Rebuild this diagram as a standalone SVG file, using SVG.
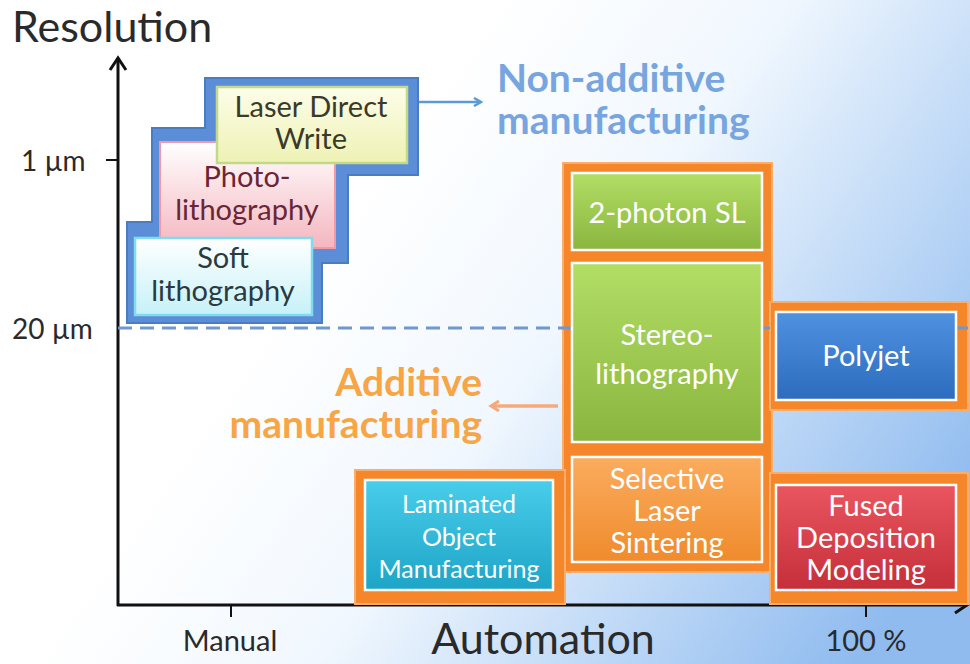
<svg xmlns="http://www.w3.org/2000/svg" width="970" height="664" viewBox="0 0 970 664">
<defs>
<linearGradient id="bg" gradientUnits="userSpaceOnUse" x1="380" y1="170" x2="930" y2="560">
<stop offset="0" stop-color="#ffffff"/><stop offset="0.35" stop-color="#f0f7fe"/><stop offset="1" stop-color="#8fbbef"/>
</linearGradient>
<linearGradient id="gYel" x1="0" y1="0" x2="0" y2="1"><stop offset="0" stop-color="#fdfde8"/><stop offset="1" stop-color="#eef2b4"/></linearGradient>
<linearGradient id="gPink" x1="0" y1="0" x2="0" y2="1"><stop offset="0" stop-color="#ffffff"/><stop offset="1" stop-color="#f4b6bf"/></linearGradient>
<linearGradient id="gCyan" x1="0" y1="0" x2="0" y2="1"><stop offset="0" stop-color="#ffffff"/><stop offset="1" stop-color="#c6f1f8"/></linearGradient>
<linearGradient id="gGreen" x1="0" y1="0" x2="0" y2="1"><stop offset="0" stop-color="#b2de66"/><stop offset="1" stop-color="#8ab53e"/></linearGradient>
<linearGradient id="gOr" x1="0" y1="0" x2="0" y2="1"><stop offset="0" stop-color="#fbac5e"/><stop offset="1" stop-color="#ef8b2c"/></linearGradient>
<linearGradient id="gTeal" x1="0" y1="0" x2="0" y2="1"><stop offset="0" stop-color="#48cdea"/><stop offset="1" stop-color="#1ea4c6"/></linearGradient>
<linearGradient id="gBlue" x1="0" y1="0" x2="0" y2="1"><stop offset="0" stop-color="#4f92e0"/><stop offset="1" stop-color="#2c6bbd"/></linearGradient>
<linearGradient id="gRed" x1="0" y1="0" x2="0" y2="1"><stop offset="0" stop-color="#ea5660"/><stop offset="1" stop-color="#c42f3a"/></linearGradient>
<marker id="arrB" markerWidth="10" markerHeight="10" refX="8" refY="5" orient="auto" markerUnits="userSpaceOnUse">
<path d="M1,1 L8,5 L1,9" fill="none" stroke="#5b9bd5" stroke-width="2.5"/>
</marker>
<marker id="arrO" markerWidth="12" markerHeight="12" refX="9" refY="6" orient="auto" markerUnits="userSpaceOnUse">
<path d="M1,1 L9,6 L1,11" fill="none" stroke="#f6aa7c" stroke-width="3"/>
</marker>
<style>
text{font-family:Lato,"Open Sans","Liberation Sans",sans-serif}
.ax{fill:#2a2a2a;}
.bx{font-size:29px;text-anchor:middle;}
.wt{fill:#ffffff;font-size:29px;text-anchor:middle;}
.sm{font-size:25px;}
.big{font-size:39px;font-weight:bold;}
.pad{fill:#f5872a;stroke:#f9ae6c;stroke-width:2}
.inner{stroke:#ffffff;stroke-width:2.5}
</style>
</defs>
<rect x="0" y="0" width="970" height="664" fill="url(#bg)"/>

<g id="axes" stroke="#111" stroke-width="3" fill="none">
<line x1="118" y1="58" x2="118" y2="606"/>
<line x1="117" y1="605" x2="967" y2="605"/>
<path d="M110,70 L118,58 L126,70"/>
<path d="M955,597 L967,605 L955,613"/>
<line x1="106" y1="160" x2="118" y2="160" stroke-width="2"/>
<line x1="231" y1="605" x2="231" y2="617" stroke-width="2"/>
<line x1="866" y1="605" x2="866" y2="617" stroke-width="2"/>
</g>
<g id="axis-labels" class="ax">
<text x="12" y="42" font-size="43">Resolution</text>
<text x="21" y="171" font-size="28">1 µm</text>
<text x="12" y="339" font-size="28">20 µm</text>
<text x="230" y="651" font-size="29" text-anchor="middle">Manual</text>
<text x="543" y="654" font-size="43" text-anchor="middle">Automation</text>
<text x="866" y="651" font-size="29" text-anchor="middle">100 %</text>
</g>

<g id="orange-pads">
<rect class="pad" x="563" y="163" width="209" height="409"/>
<rect class="pad" x="355" y="470" width="210" height="134"/>
<rect class="pad" x="770" y="302" width="198" height="108"/>
<rect class="pad" x="770" y="473" width="198" height="131"/>
</g>

<g id="connectors">
<line x1="118" y1="328" x2="970" y2="328" stroke="#6f98d0" stroke-width="3" stroke-dasharray="14 8"/>
<line x1="418" y1="102" x2="481" y2="102" stroke="#5b9bd5" stroke-width="2.5" marker-end="url(#arrB)"/>
<line x1="558" y1="406" x2="491" y2="406" stroke="#f6aa7c" stroke-width="3.5" marker-end="url(#arrO)"/>
</g>

<g id="non-additive-group">
<path d="M205,78 H418 V175 H348 V263 H322 V323 H127 V222 H152 V128 H205 Z" fill="#5b8ed6" stroke="#4a7cc4" stroke-width="2"/>
</g>
<g id="photolithography">
<rect x="160" y="142" width="175" height="106" fill="url(#gPink)" stroke="#f09aa8" stroke-width="2"/>
<text class="bx" x="247" y="187" fill="#6a2636">Photo-</text>
<text class="bx" x="247" y="220" fill="#6a2636">lithography</text>
</g>
<g id="laser-direct-write">
<rect x="217" y="87" width="190" height="76" fill="url(#gYel)" stroke="#c3d98a" stroke-width="2.5"/>
<text class="bx" x="311" y="117" fill="#3a3a2a">Laser Direct</text>
<text class="bx" x="311" y="149" fill="#3a3a2a">Write</text>
</g>
<g id="soft-lithography">
<rect x="135" y="238" width="177" height="77" fill="url(#gCyan)" stroke="#7fdcef" stroke-width="2.5"/>
<text class="bx" x="223" y="268" fill="#2a3a40">Soft</text>
<text class="bx" x="223" y="301" fill="#2a3a40">lithography</text>
</g>

<g id="non-additive-label">
<text class="big" x="497" y="92" fill="#76a5e0">Non-additive</text>
<text class="big" x="497" y="134" fill="#76a5e0">manufacturing</text>
</g>
<g id="additive-label">
<text class="big" x="482" y="396" fill="#f7a545" text-anchor="end">Additive</text>
<text class="big" x="482" y="438" fill="#f7a545" text-anchor="end">manufacturing</text>
</g>

<g id="two-photon-sl">
<rect class="inner" x="572" y="173" width="190" height="77" fill="url(#gGreen)"/>
<text class="wt" x="667" y="223">2-photon SL</text>
</g>
<g id="stereolithography">
<rect class="inner" x="572" y="263" width="190" height="179" fill="url(#gGreen)"/>
<text class="wt" x="667" y="345">Stereo-</text>
<text class="wt" x="667" y="384">lithography</text>
</g>
<g id="selective-laser-sintering">
<rect class="inner" x="572" y="457" width="190" height="105" fill="url(#gOr)"/>
<text class="wt" x="667" y="489">Selective</text>
<text class="wt" x="667" y="521">Laser</text>
<text class="wt" x="667" y="553">Sintering</text>
</g>
<g id="laminated-object-manufacturing">
<rect class="inner" x="365" y="480" width="188" height="110" fill="url(#gTeal)"/>
<text class="wt sm" x="459" y="513">Laminated</text>
<text class="wt sm" x="459" y="546">Object</text>
<text class="wt sm" x="459" y="578">Manufacturing</text>
</g>
<g id="polyjet">
<rect class="inner" x="776" y="312" width="180" height="88" fill="url(#gBlue)"/>
<text class="wt" x="866" y="366">Polyjet</text>
</g>
<g id="fused-deposition-modeling">
<rect class="inner" x="776" y="485" width="180" height="105" fill="url(#gRed)"/>
<text class="wt" x="866" y="516">Fused</text>
<text class="wt" x="866" y="548">Deposition</text>
<text class="wt" x="866" y="580">Modeling</text>
</g>
</svg>
